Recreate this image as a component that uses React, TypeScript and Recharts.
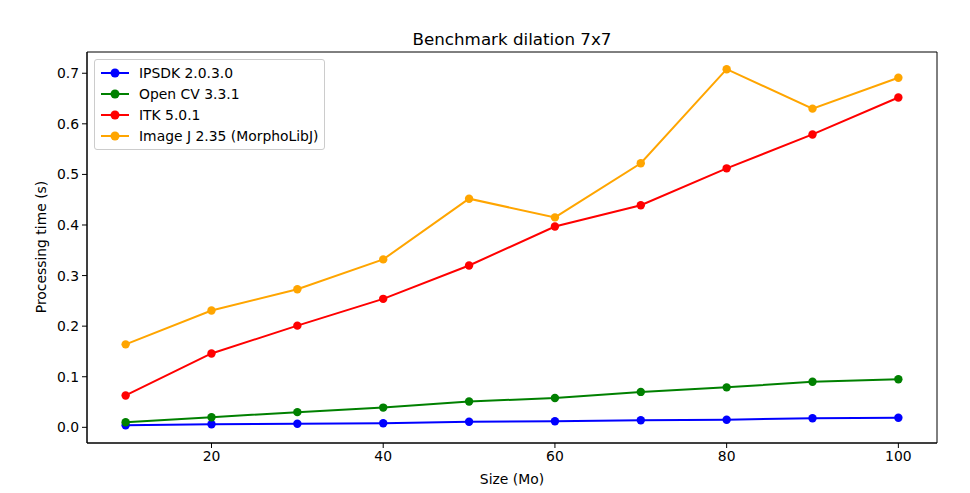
import React from 'react';
import { LineChart, Line, XAxis, YAxis, ReferenceArea } from 'recharts';

const sizes = [10, 20, 30, 40, 50, 60, 70, 80, 90, 100];
const ipsdk = [0.004, 0.006, 0.007, 0.008, 0.011, 0.012, 0.014, 0.015, 0.018, 0.019];
const opencv = [0.01, 0.02, 0.03, 0.039, 0.051, 0.058, 0.07, 0.079, 0.09, 0.095];
const itk = [0.063, 0.146, 0.201, 0.254, 0.32, 0.397, 0.439, 0.512, 0.579, 0.652];
const imagej = [0.164, 0.231, 0.273, 0.332, 0.452, 0.415, 0.522, 0.708, 0.63, 0.691];

const xTicks = [20, 40, 60, 80, 100];
const yTicks = [0, 0.1, 0.2, 0.3, 0.4, 0.5, 0.6, 0.7];

const series = [
  { key: 'ipsdk', name: 'IPSDK 2.0.3.0', color: '#0000ff' },
  { key: 'opencv', name: 'Open CV 3.3.1', color: '#008000' },
  { key: 'itk', name: 'ITK 5.0.1', color: '#ff0000' },
  { key: 'imagej', name: 'Image J 2.35 (MorphoLibJ)', color: '#ffa500' },
];

const data = sizes.map((s, i) => ({
  size: s,
  ipsdk: ipsdk[i],
  opencv: opencv[i],
  itk: itk[i],
  imagej: imagej[i],
}));

const FONT = 'DejaVu Sans, sans-serif';

// legend box in the matplotlib style
const LegendBox = () => (
  <div
    style={{
      position: 'absolute',
      top: 59,
      left: 94,
      border: '1px solid #cccccc',
      borderRadius: 3,
      background: 'rgba(255,255,255,0.8)',
      padding: '2px 6px 3px 6px',
      fontFamily: FONT,
      fontSize: 13.9,
      color: '#000',
      whiteSpace: 'nowrap',
    }}
  >
    {series.map((s) => (
      <div key={s.key} style={{ display: 'flex', alignItems: 'center', height: 21 }}>
        <svg width={28} height={12} style={{ marginRight: 10 }}>
          <line x1={0} y1={6} x2={28} y2={6} stroke={s.color} strokeWidth={2} />
          <circle cx={14} cy={6} r={4.5} fill={s.color} />
        </svg>
        <span>{s.name}</span>
      </div>
    ))}
  </div>
);

export default function App() {
  return (
    <div style={{ position: 'absolute', top: 0, left: 0, width: 970, height: 493, background: '#fff' }}>
      <div
        style={{
          position: 'absolute',
          top: 29,
          left: 87,
          width: 850,
          textAlign: 'center',
          fontFamily: FONT,
          fontSize: 16.7,
        }}
      >
        Benchmark dilation 7x7
      </div>
      <div
        style={{
          position: 'absolute',
          top: 471,
          left: 87,
          width: 850,
          textAlign: 'center',
          fontFamily: FONT,
          fontSize: 13.9,
        }}
      >
        Size (Mo)
      </div>
      <div
        style={{
          position: 'absolute',
          top: 247,
          left: 41,
          transform: 'translate(-50%, -50%) rotate(-90deg)',
          whiteSpace: 'nowrap',
          fontFamily: FONT,
          fontSize: 13.9,
        }}
      >
        Processing time (s)
      </div>
      <LineChart
        width={970}
        height={493}
        data={data}
        margin={{ top: 52, right: 33, bottom: 0, left: 0 }}
        style={{ position: 'absolute', top: 0, left: 0 }}
      >
        <XAxis
          dataKey="size"
          type="number"
          domain={[5.5, 104.5]}
          ticks={xTicks}
          allowDataOverflow
          height={50}
          tickSize={5}
          tickMargin={3}
          stroke="#000"
          tick={{ fill: '#000', fontSize: 13.9, fontFamily: FONT }}
        />
        <YAxis
          type="number"
          domain={[-0.031, 0.742]}
          ticks={yTicks}
          allowDataOverflow
          width={87}
          tickSize={5}
          tickMargin={3}
          stroke="#000"
          tickFormatter={(v: number) => v.toFixed(1)}
          tick={{ fill: '#000', fontSize: 13.9, fontFamily: FONT }}
        />
        <ReferenceArea
          x1={5.5}
          x2={104.5}
          y1={-0.031}
          y2={0.742}
          fill="none"
          stroke="#000"
          strokeWidth={1}
          fillOpacity={0}
        />
        {series.map((s) => (
          <Line
            key={s.key}
            dataKey={s.key}
            name={s.name}
            stroke={s.color}
            strokeWidth={2}
            dot={{ r: 4.2, fill: s.color, stroke: s.color, strokeWidth: 0 }}
            activeDot={false}
            isAnimationActive={false}
          />
        ))}
      </LineChart>
      <LegendBox />
    </div>
  );
}
